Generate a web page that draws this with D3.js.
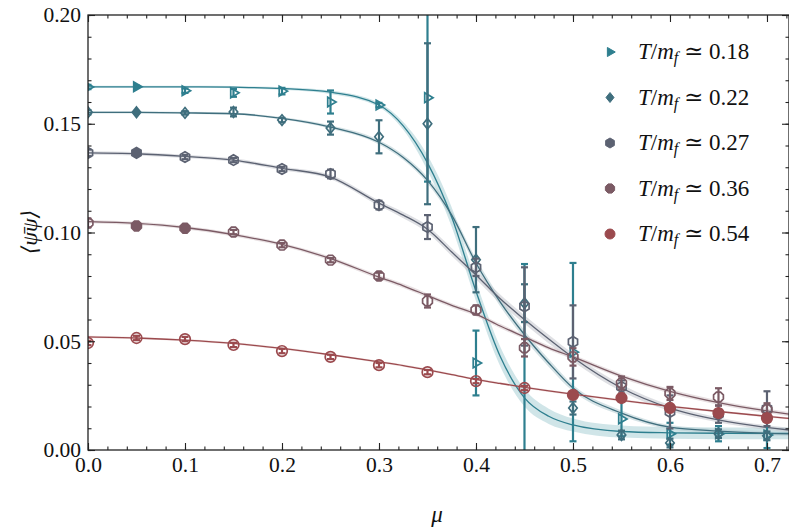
<!DOCTYPE html>
<html>
<head>
<meta charset="utf-8">
<script src="https://cdn.jsdelivr.net/npm/d3@7"></script>
<style>
body { margin: 0; background: #fff; }
svg text { font-family: "Liberation Serif", "DejaVu Serif", serif; fill: #111; }
</style>
</head>
<body>
<svg id="chart" width="789" height="529"></svg>
<script>
// chemical potential values of the measured points
var mu = [0, 0.05, 0.1, 0.15, 0.2, 0.25, 0.3, 0.35, 0.4, 0.45, 0.5, 0.55, 0.6, 0.65, 0.7];

var labels = ["0.18", "0.22", "0.27", "0.36", "0.54"];

var t018 = [0.1669, 0.167, 0.1652, 0.1642, 0.165, 0.160, 0.1586, 0.162, 0.040, -0.010, 0.045, 0.0143, 0.0075, 0.0075, 0.0069];
var e018 = [0.001, 0.0005, 0.001, 0.0018, 0.0015, 0.0053, 0.001, 0.0386, 0.0149, 0.0955, 0.041, 0.008, 0.005, 0.0035, 0.006];

var t022 = [0.1553, 0.1553, 0.155, 0.1554, 0.1517, 0.148, 0.144, 0.150, 0.0875, 0.0675, 0.0193, 0.0069, 0.0032, 0.0075, 0.0065];
var e022 = [0.001, 0.0005, 0.0008, 0.002, 0.001, 0.003, 0.0076, 0.037, 0.015, 0.0087, 0.003, 0.002, 0.002, 0.002, 0.002];

var t027 = [0.1366, 0.1366, 0.1347, 0.1333, 0.1292, 0.1269, 0.1126, 0.1025, 0.084, 0.066, 0.0497, 0.029, 0.0175, 0.0165, 0.019];
var e027 = [0.0015, 0.0008, 0.001, 0.001, 0.001, 0.002, 0.002, 0.0055, 0.004, 0.018, 0.0168, 0.003, 0.0076, 0.004, 0.008];

var t036 = [0.1044, 0.103, 0.102, 0.1002, 0.0942, 0.0873, 0.080, 0.0685, 0.0644, 0.047, 0.0428, 0.0308, 0.026, 0.0244, 0.0185];
var e036 = [0.002, 0.001, 0.001, 0.001, 0.001, 0.001, 0.0015, 0.003, 0.002, 0.004, 0.004, 0.003, 0.003, 0.004, 0.003];

var t054 = [0.0492, 0.0515, 0.051, 0.0483, 0.0455, 0.0428, 0.039, 0.0358, 0.0317, 0.0285, 0.0253, 0.0239, 0.0193, 0.017, 0.0147];
var e054 = [0.001, 0.001, 0.001, 0.001, 0.001, 0.001, 0.001, 0.001, 0.001, 0.001, 0.001, 0.001, 0.001, 0.001, 0.001];

// points drawn as solid markers
var filled018 = [0.05];
var filled022 = [0.05];
var filled027 = [0.05];
var filled036 = [0.05, 0.1];
var filled054 = [0.5, 0.55, 0.6, 0.65, 0.7];

// fit curves, with half width of the error band
var fitMu = [0, 0.05, 0.1, 0.15, 0.2, 0.25, 0.3, 0.325, 0.35, 0.375, 0.4, 0.425, 0.45, 0.475, 0.5, 0.55, 0.6, 0.65, 0.7227];
var fit018 = [0.167, 0.167, 0.167, 0.1668, 0.1662, 0.1645, 0.1586, 0.149, 0.132, 0.107, 0.073, 0.043, 0.024, 0.0155, 0.0115, 0.0085, 0.0079, 0.0077, 0.0076];
var band018 = [0.0005, 0.0005, 0.0005, 0.0005, 0.0006, 0.0008, 0.001, 0.0018, 0.0035, 0.0045, 0.0045, 0.0045, 0.004, 0.0035, 0.003, 0.0028, 0.0027, 0.0027, 0.0027];
var fit022 = [0.1552, 0.1552, 0.155, 0.1546, 0.1525, 0.1485, 0.1415, 0.1345, 0.124, 0.108, 0.086, 0.068, 0.053, 0.040, 0.0285, 0.017, 0.0105, 0.0087, 0.0074];
var band022 = [0.0005, 0.0005, 0.0005, 0.0005, 0.0006, 0.0008, 0.001, 0.0012, 0.0015, 0.0018, 0.002, 0.002, 0.002, 0.0018, 0.0015, 0.0012, 0.001, 0.001, 0.001];
var fit027 = [0.1366, 0.1362, 0.135, 0.1333, 0.1295, 0.1255, 0.1135, 0.108, 0.1015, 0.091, 0.0805, 0.0695, 0.060, 0.051, 0.0425, 0.0285, 0.0193, 0.0138, 0.0092];
var band027 = [0.0008, 0.0008, 0.0008, 0.0008, 0.0009, 0.001, 0.0012, 0.0014, 0.0016, 0.0018, 0.002, 0.002, 0.002, 0.002, 0.0018, 0.0016, 0.0014, 0.0012, 0.001];
var fit036 = [0.105, 0.1042, 0.1023, 0.099, 0.0945, 0.088, 0.0795, 0.0755, 0.071, 0.0665, 0.0625, 0.057, 0.052, 0.047, 0.0428, 0.034, 0.027, 0.0218, 0.0165];
var band036 = [0.0008, 0.0008, 0.0008, 0.0008, 0.0008, 0.0009, 0.001, 0.001, 0.001, 0.001, 0.001, 0.001, 0.001, 0.001, 0.001, 0.001, 0.001, 0.001, 0.001];
var fit054 = [0.052, 0.0515, 0.0505, 0.049, 0.0467, 0.0438, 0.0405, 0.0388, 0.0368, 0.0347, 0.0325, 0.0306, 0.0288, 0.0272, 0.0257, 0.0228, 0.0201, 0.0177, 0.0145];
var band054 = [0.0005, 0.0005, 0.0005, 0.0005, 0.0005, 0.0005, 0.0005, 0.0005, 0.0005, 0.0005, 0.0005, 0.0005, 0.0005, 0.0005, 0.0005, 0.0005, 0.0005, 0.0005, 0.0005];

var xTicks = [0, 0.1, 0.2, 0.3, 0.4, 0.5, 0.6, 0.7];
var yTicks = [0, 0.05, 0.1, 0.15, 0.2];

var colors = ["#2e7f8f", "#3f6e7d", "#5c6272", "#7b5a64", "#9b4a4e"];
var bandColors = ["#a9cfd5", "#b4ccd2", "#c4c7cd", "#d6c6ca", "#e2c4c4"];
var shapes = ["tri", "diamond", "hex", "oct", "circle"];

var series = [
    {t: t018, e: e018, filled: filled018, fit: fit018, band: band018},
    {t: t022, e: e022, filled: filled022, fit: fit022, band: band022},
    {t: t027, e: e027, filled: filled027, fit: fit027, band: band027},
    {t: t036, e: e036, filled: filled036, fit: fit036, band: band036},
    {t: t054, e: e054, filled: filled054, fit: fit054, band: band054}
];

var plotLeft = 88, plotRight = 789, plotTop = 15, plotBottom = 450;

var svg = d3.select("#chart");

var xScale = d3.scaleLinear().domain([0, 0.7227]).range([plotLeft, plotRight]);
var yScale = d3.scaleLinear().domain([0, 0.2]).range([plotBottom, plotTop]);

svg.append("defs").append("clipPath").attr("id", "plotclip")
    .append("rect")
    .attr("x", plotLeft).attr("y", plotTop)
    .attr("width", plotRight - plotLeft).attr("height", plotBottom - plotTop);

// marker paths
var polygon = function(n, r, rot)
{
    var pts = d3.range(n).map(function(i) {
        var a = rot + i * 2 * Math.PI / n;
        return [r * Math.cos(a), r * Math.sin(a)];
    });
    return "M" + pts.join("L") + "Z";
}

var markerPath = function(shape, s)
{
    if (shape == "tri") { return polygon(3, s * 1.05, 0); }
    if (shape == "diamond") { return "M0," + (-s) + "L" + (s * 0.8) + ",0L0," + s + "L" + (-s * 0.8) + ",0Z"; }
    if (shape == "hex") { return polygon(6, s, -Math.PI / 2); }
    if (shape == "oct") { return polygon(8, s, Math.PI / 8); }
    return d3.symbol().type(d3.symbolCircle).size(Math.PI * s * s)();
}

var plot = svg.append("g").attr("clip-path", "url(#plotclip)");

// bands and fit lines
series.forEach(function(s, k) {
    var pts = fitMu.map(function(m, i) { return {m: m, v: s.fit[i], b: s.band[i]}; });
    var area = d3.area()
        .x(function(d) { return xScale(d.m); })
        .y0(function(d) { return yScale(d.v - d.b); })
        .y1(function(d) { return yScale(d.v + d.b); })
        .curve(d3.curveMonotoneX);
    plot.append("path").datum(pts)
        .attr("d", area)
        .attr("fill", bandColors[k])
        .attr("opacity", 0.55);
});

series.forEach(function(s, k) {
    var pts = fitMu.map(function(m, i) { return {m: m, v: s.fit[i]}; });
    var line = d3.line()
        .x(function(d) { return xScale(d.m); })
        .y(function(d) { return yScale(d.v); })
        .curve(d3.curveMonotoneX);
    plot.append("path").datum(pts)
        .attr("d", line)
        .attr("fill", "none")
        .attr("stroke", colors[k])
        .attr("stroke-width", 1.3);
});

// error bars and markers
series.forEach(function(s, k) {
    var pts = mu.map(function(m, i) { return {m: m, v: s.t[i], e: s.e[i]}; });
    var g = plot.append("g").attr("stroke", colors[k]);

    var bars = g.selectAll(".eb").data(pts).enter().append("g");
    bars.append("line")
        .attr("x1", function(d) { return xScale(d.m); })
        .attr("x2", function(d) { return xScale(d.m); })
        .attr("y1", function(d) { return yScale(d.v - d.e); })
        .attr("y2", function(d) { return yScale(d.v + d.e); })
        .attr("stroke-width", 2.2);
    [-1, 1].forEach(function(sign) {
        bars.append("line")
            .attr("x1", function(d) { return xScale(d.m) - 3.5; })
            .attr("x2", function(d) { return xScale(d.m) + 3.5; })
            .attr("y1", function(d) { return yScale(d.v + sign * d.e); })
            .attr("y2", function(d) { return yScale(d.v + sign * d.e); })
            .attr("stroke-width", 2.2);
    });

    g.selectAll(".mk").data(pts).enter().append("path")
        .attr("d", markerPath(shapes[k], 5.3))
        .attr("transform", function(d) { return "translate(" + xScale(d.m) + "," + yScale(d.v) + ")"; })
        .attr("fill", function(d) { return s.filled.indexOf(d.m) >= 0 ? colors[k] : "none"; })
        .attr("stroke-width", 1.7);
});

// frame and ticks on all four sides
var frame = svg.append("g");

var addAxis = function(axis, ticks, minor, transform, fmt)
{
    frame.append("g").attr("transform", transform)
        .call(axis.tickValues(minor).tickSizeInner(-3.5).tickSizeOuter(0).tickFormat(""))
        .call(function(g) { g.select(".domain").remove(); });
    var ga = frame.append("g").attr("transform", transform)
        .call(axis.tickValues(ticks).tickSizeInner(-7).tickSizeOuter(0).tickPadding(7).tickFormat(fmt ? d3.format(fmt) : ""));
    ga.select(".domain").remove();
    ga.selectAll("text").attr("font-size", 21.5).attr("fill", "#111");
    return ga;
}

var xMinor = d3.range(0, 0.7227, 0.02);
var yMinor = d3.range(0, 0.2001, 0.01);

addAxis(d3.axisBottom(xScale), xTicks, xMinor, "translate(0," + plotBottom + ")", ".1f");
addAxis(d3.axisTop(xScale), xTicks, xMinor, "translate(0," + plotTop + ")", null);
addAxis(d3.axisLeft(yScale), yTicks, yMinor, "translate(" + plotLeft + ",0)", ".2f");
addAxis(d3.axisRight(yScale), yTicks, yMinor, "translate(" + plotRight + ",0)", null);

frame.selectAll("line").attr("stroke", "#222").attr("stroke-width", 1.1);

frame.append("rect")
    .attr("x", plotLeft).attr("y", plotTop)
    .attr("width", plotRight - plotLeft).attr("height", plotBottom - plotTop)
    .attr("fill", "none")
    .attr("stroke", "#222")
    .attr("stroke-width", 1.3);

// axis titles
svg.append("text")
    .attr("x", 437).attr("y", 522)
    .attr("text-anchor", "middle")
    .attr("font-size", 23)
    .attr("font-style", "italic")
    .text("μ");

svg.append("text")
    .attr("transform", "translate(37,232) rotate(-90)")
    .attr("text-anchor", "middle")
    .attr("font-size", 22)
    .attr("font-style", "italic")
    .text("⟨ψ̄ψ⟩");

// legend
var legend = svg.append("g");
labels.forEach(function(lab, k) {
    var y = 52 + k * 45.5;
    legend.append("path")
        .attr("d", markerPath(shapes[k], 5))
        .attr("transform", "translate(610," + y + ")")
        .attr("fill", colors[k])
        .attr("stroke", colors[k])
        .attr("stroke-width", 1);
    var t = legend.append("text")
        .attr("x", 638).attr("y", y + 7)
        .attr("font-size", 23);
    t.append("tspan").attr("font-style", "italic").text("T");
    t.append("tspan").text("/");
    t.append("tspan").attr("font-style", "italic").text("m");
    t.append("tspan").attr("font-style", "italic").attr("font-size", 16).attr("dy", 4).text("f");
    t.append("tspan").attr("dy", -4).text(" ≃ " + lab);
});
</script>
</body>
</html>
